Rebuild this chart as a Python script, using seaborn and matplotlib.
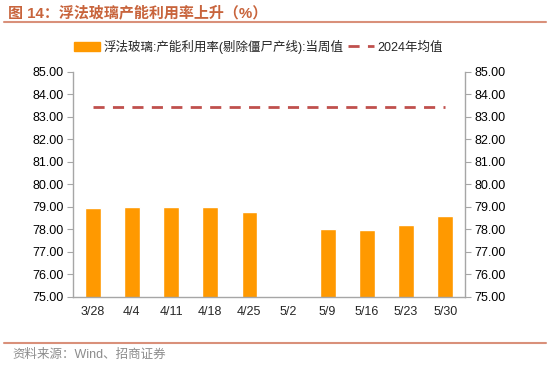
import numpy as np
import pandas as pd
import matplotlib
matplotlib.use("Agg")
import matplotlib.pyplot as plt
import seaborn as sns
from matplotlib.lines import Line2D
from matplotlib.patches import Patch

dates = ["3/28", "4/4", "4/11", "4/18", "4/25", "5/2", "5/9", "5/16", "5/23", "5/30"]
weekly = [78.94, 78.98, 79.01, 79.01, 78.76, np.nan, 78.01, 77.97, 78.19, 78.60]
avg_2024 = 83.44
yticks = [75, 76, 77, 78, 79, 80, 81, 82, 83, 84, 85]

sns.set_style("white")
plt.rcParams['font.family'] = ['Liberation Sans', 'Noto Sans CJK SC']

df = pd.DataFrame({"date": dates, "value": weekly})

fig = plt.figure(figsize=(5.5, 3.91), dpi=100)
ax = fig.add_axes([0.133, 0.241, 0.712, 0.575])

sns.barplot(data=df, x="date", y="value", color="#FF9900", saturation=1,
            width=0.4, ax=ax)
ax.plot([0, len(dates) - 1], [avg_2024, avg_2024], color="#C0504D",
        linestyle=(0, (4, 3)), linewidth=2)

ax.set_xlim(-0.5, len(dates) - 0.5)
ax.set_ylim(75, 85)
ax.set_yticks(yticks)
ax.set_yticklabels([f"{v:.2f}" for v in yticks])
ax.set_xlabel("")
ax.set_ylabel("")

ax2 = ax.twinx()
ax2.set_ylim(75, 85)
ax2.set_yticks(yticks)
ax2.set_yticklabels([f"{v:.2f}" for v in yticks])

grey = "#A6A6A6"
for a in (ax, ax2):
    a.spines["top"].set_visible(False)
    for s in ["left", "right", "bottom"]:
        a.spines[s].set_color(grey)
        a.spines[s].set_linewidth(1)
    a.tick_params(axis="y", direction="out", length=4, color=grey,
                  labelsize=9, labelcolor="black", pad=3)
ax.spines["right"].set_visible(False)
ax2.spines["left"].set_visible(False)
ax2.spines["bottom"].set_visible(False)

ax.set_xticks(np.arange(len(dates)))
ax.set_xticklabels(dates)
ax.set_xticks(np.arange(-0.5, len(dates), 1), minor=True)
ax.tick_params(axis="x", which="major", length=0, labelsize=9, pad=7)
ax.tick_params(axis="x", which="minor", direction="out", length=4, color=grey)

handles = [Patch(color="#FF9900"),
           Line2D([0], [0], color="#C0504D", linestyle=(0, (4, 3)), linewidth=2)]
labels = ["浮法玻璃:产能利用率(剔除僵尸产线):当周值", "2024年均值"]
fig.legend(handles, labels, loc="center", bbox_to_anchor=(0.47, 0.88), ncol=2,
           frameon=False, fontsize=9, handlelength=2.1, handleheight=0.8,
           columnspacing=0.3, handletextpad=0.3)

fig.text(0.015, 0.968, "图 14：浮法玻璃产能利用率上升（%）", fontsize=10.8,
         fontweight="bold", color="#C8643C", va="center", ha="left")
fig.add_artist(Line2D([0.008, 0.992], [0.944, 0.944], color="#D9907A", linewidth=1.5))
fig.add_artist(Line2D([0.008, 0.992], [0.122, 0.122], color="#D9907A", linewidth=1.5))
fig.text(0.022, 0.092, "资料来源：Wind、招商证券", fontsize=9, color="#8C8C8C",
         va="center", ha="left")

fig.savefig("out.png", dpi=100)
